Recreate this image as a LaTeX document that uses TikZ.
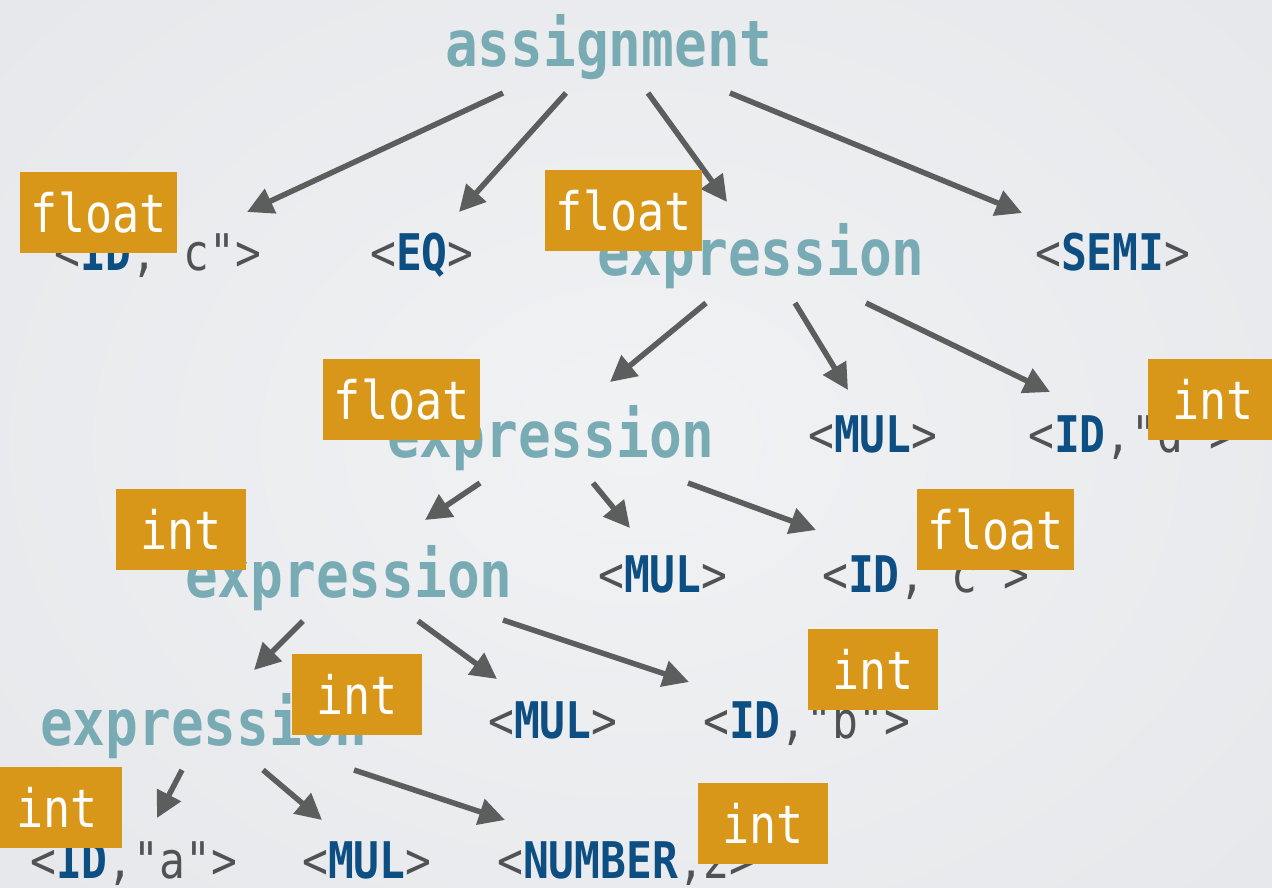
\documentclass[tikz,border=0pt]{standalone}
\usepackage{fontspec}
\usetikzlibrary{arrows.meta}
\newfontfamily\monof[FakeStretch=0.85]{DejaVu Sans Mono}
\definecolor{bgin}{HTML}{F1F2F4}
\definecolor{bgout}{HTML}{E6E8EB}
\definecolor{rulecol}{HTML}{79ABB5}
\definecolor{kwblue}{HTML}{0D4F83}
\definecolor{tokgray}{HTML}{505254}
\definecolor{arrgray}{HTML}{5B5E5D}
\definecolor{tagorange}{HTML}{D9971A}
\newcommand{\kw}[1]{\textcolor{kwblue}{\bfseries #1}}
\tikzset{
  rulenode/.style={anchor=base west, inner sep=0pt, text=rulecol,
    font=\monof\bfseries\fontsize{64}{64}\selectfont},
  toknode/.style={anchor=base west, inner sep=0pt, text=tokgray,
    font=\monof\fontsize{50.5}{50.5}\selectfont},
  tagnode/.style={anchor=north west, fill=tagorange, text=white, inner sep=0pt,
    minimum height=81pt, text height=39pt, text depth=0pt,
    font=\monof\fontsize{53}{53}\selectfont},
  floattag/.style={tagnode, minimum width=157pt},
  inttag/.style={tagnode, minimum width=130pt},
  edge/.style={draw=arrgray, line width=5.5pt, -{Triangle[length=26pt,width=26pt]}}
}
\begin{document}
\begin{tikzpicture}[x=1pt,y=-1pt]
  \useasboundingbox (0,0) rectangle (1272,888);
  \clip (0,0) rectangle (1272,888);
  \shade[inner color=bgin, outer color=bgout] (-200,-200) rectangle (1472,1088);

  % grammar rule nodes
  \node[rulenode] (asg)   at (445,67)  {assignment};
  \node[rulenode] (expA)  at (597,275) {expression};
  \node[rulenode] (expB)  at (387,457) {expression};
  \node[rulenode] (expC)  at (185,597) {expression};
  \node[rulenode] (expD)  at (40,745)  {expression};

  % token nodes
  \node[toknode] (idc)  at (54,270)   {<\kw{ID},"c">};
  \node[toknode] (eq)   at (370,270)  {<\kw{EQ}>};
  \node[toknode] (semi) at (1035,270) {<\kw{SEMI}>};
  \node[toknode] (mulA) at (808,452)  {<\kw{MUL}>};
  \node[toknode] (idd)  at (1028,452) {<\kw{ID},"d">};
  \node[toknode] (mulB) at (598,592)  {<\kw{MUL}>};
  \node[toknode] (idc2) at (822,592)  {<\kw{ID},"c">};
  \node[toknode] (mulC) at (488,738)  {<\kw{MUL}>};
  \node[toknode] (idb)  at (703,738)  {<\kw{ID},"b">};
  \node[toknode] (ida)  at (30,878)   {<\kw{ID},"a">};
  \node[toknode] (mulD) at (302,878)  {<\kw{MUL}>};
  \node[toknode] (num)  at (497,878)  {<\kw{NUMBER},2>};

  % connector end points
  \coordinate (asg-1) at (503,93);  \coordinate (idc-t)  at (247,212);
  \coordinate (asg-2) at (566,93);  \coordinate (eq-t)   at (459,212);
  \coordinate (asg-3) at (648,93);  \coordinate (expA-t) at (727,202);
  \coordinate (asg-4) at (730,93);  \coordinate (semi-t) at (1022,213);
  \coordinate (expA-1) at (706,303); \coordinate (expB-t) at (610,382);
  \coordinate (expA-2) at (795,303); \coordinate (mulA-t) at (848,390);
  \coordinate (expA-3) at (866,303); \coordinate (idd-t)  at (1050,392);
  \coordinate (expB-1) at (480,483); \coordinate (expC-t) at (425,520);
  \coordinate (expB-2) at (593,483); \coordinate (mulB-t) at (630,528);
  \coordinate (expB-3) at (688,483); \coordinate (idc2-t) at (816,530);
  \coordinate (expC-1) at (303,621); \coordinate (expD-t) at (254,670);
  \coordinate (expC-2) at (418,621); \coordinate (mulC-t) at (497,679);
  \coordinate (expC-3) at (503,620); \coordinate (idb-t)  at (689,682);
  \coordinate (expD-1) at (182,770); \coordinate (ida-t)  at (157,818);
  \coordinate (expD-2) at (263,770); \coordinate (mulD-t) at (322,820);
  \coordinate (expD-3) at (354,770); \coordinate (num-t)  at (505,820);

  % parse tree edges
  \foreach \s/\t in {asg-1/idc-t, asg-2/eq-t, asg-3/expA-t, asg-4/semi-t,
                     expA-1/expB-t, expA-2/mulA-t, expA-3/idd-t,
                     expB-1/expC-t, expB-2/mulB-t, expB-3/idc2-t,
                     expC-1/expD-t, expC-2/mulC-t, expC-3/idb-t,
                     expD-1/ida-t, expD-2/mulD-t, expD-3/num-t}
    \draw[edge] (\s) -- (\t);

  % type annotations
  \node[floattag] (tIdc)  at (20,172)   {float};
  \node[floattag] (tExpA) at (545,170)  {float};
  \node[floattag] (tExpB) at (323,359)  {float};
  \node[inttag]   (tIdd)  at (1148,359) {int};
  \node[inttag]   (tExpC) at (116,489)  {int};
  \node[floattag] (tIdc2) at (917,489)  {float};
  \node[inttag]   (tExpD) at (292,654)  {int};
  \node[inttag]   (tIdb)  at (808,629)  {int};
  \node[inttag]   (tIda)  at (-8,767)   {int};
  \node[inttag]   (tNum)  at (698,783)  {int};
\end{tikzpicture}
\end{document}
